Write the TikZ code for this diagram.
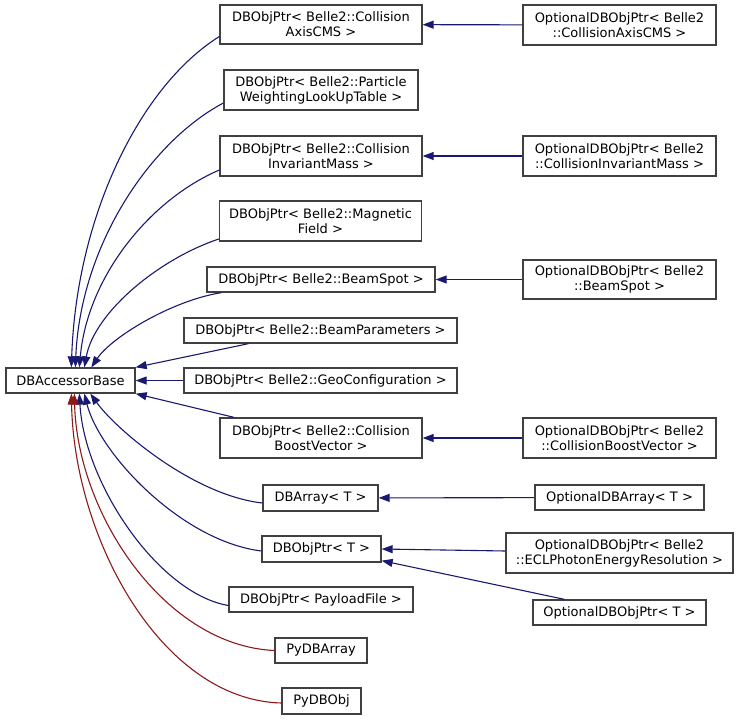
\documentclass[tikz,border=0pt]{standalone}
\usepackage{fontspec}
\setmainfont{DejaVu Sans}
\usetikzlibrary{arrows.meta,positioning}
\definecolor{pubblue}{HTML}{191970}
\definecolor{protred}{HTML}{8B1A1A}
\definecolor{boxgray}{HTML}{404040}

\begin{document}
\begin{tikzpicture}[x=1pt, y=-1pt,
  cls/.style={rectangle, draw=boxgray, line width=1.3pt, fill=white, inner sep=0pt, minimum height=25pt, align=center, font=\fontsize{13}{15}\selectfont},
  tall/.style={cls, minimum height=40pt},
  pub/.style={-{Triangle[length=11pt,width=8pt]}, pubblue, line width=1.1pt},
  prot/.style={-{Triangle[length=11pt,width=8pt]}, protred, line width=1.1pt}]
\useasboundingbox (0,0) rectangle (739,720);
\node[cls, minimum width=129pt] (base) at (70.5,380.5) {DBAccessorBase};
\node[tall, minimum width=202pt, minimum height=39pt] (axis) at (321,24.5) {DBObjPtr< Belle2::Collision\\AxisCMS >};
\node[tall, minimum width=193pt] (optaxis) at (619.5,25) {OptionalDBObjPtr< Belle2\\::CollisionAxisCMS >};
\node[tall, minimum width=194pt] (lookup) at (321,90) {DBObjPtr< Belle2::Particle\\WeightingLookUpTable >};
\node[tall, minimum width=202pt] (invmass) at (321,156) {DBObjPtr< Belle2::Collision\\InvariantMass >};
\node[tall, minimum width=193pt] (optinvmass) at (619.5,156) {OptionalDBObjPtr< Belle2\\::CollisionInvariantMass >};
\node[tall, minimum width=202pt] (magfield) at (320.5,221) {DBObjPtr< Belle2::Magnetic\\Field >};
\node[cls, minimum width=228pt] (beamspot) at (321,279.5) {DBObjPtr< Belle2::BeamSpot >};
\node[tall, minimum width=193pt, minimum height=39pt] (optbeamspot) at (619.5,279.5) {OptionalDBObjPtr< Belle2\\::BeamSpot >};
\node[cls, minimum width=273pt] (beampar) at (320.5,330.5) {DBObjPtr< Belle2::BeamParameters >};
\node[cls, minimum width=273pt] (geoconf) at (320.5,380.5) {DBObjPtr< Belle2::GeoConfiguration >};
\node[tall, minimum width=202pt] (boost) at (321,438) {DBObjPtr< Belle2::Collision\\BoostVector >};
\node[tall, minimum width=193pt] (optboost) at (619.5,438) {OptionalDBObjPtr< Belle2\\::CollisionBoostVector >};
\node[cls, minimum width=115pt, minimum height=26pt] (dbarray) at (320.5,498) {DBArray< T >};
\node[cls, minimum width=169pt] (optdbarray) at (619.5,497.5) {OptionalDBArray< T >};
\node[cls, minimum width=119pt, minimum height=26pt] (dbobjptr) at (321.5,549) {DBObjPtr< T >};
\node[tall, minimum width=227pt] (optecl) at (619.5,553) {OptionalDBObjPtr< Belle2\\::ECLPhotonEnergyResolution >};
\node[cls, minimum width=173pt] (optdbobjptr) at (619.5,612.5) {OptionalDBObjPtr< T >};
\node[cls, minimum width=184pt] (payload) at (321,599.5) {DBObjPtr< PayloadFile >};
\node[cls, minimum width=92pt] (pydbarray) at (321,650.5) {PyDBArray};
\node[cls, minimum width=79pt, minimum height=26pt] (pydbobj) at (321.5,701) {PyDBObj};
\draw[pub] ([yshift=-12pt]axis.west) .. controls +(-80,50) and +(5,-150) .. ([xshift=66pt]base.north west);
\draw[pub] ([yshift=-13pt]lookup.west) .. controls +(-75,40) and +(5,-120) .. ([xshift=70pt]base.north west);
\draw[pub] ([yshift=-14pt]invmass.west) .. controls +(-70,30) and +(8,-90) .. ([xshift=74pt]base.north west);
\draw[pub] ([yshift=-18pt]magfield.west) .. controls +(-60,20) and +(10,-55) .. ([xshift=79pt]base.north west);
\draw[pub] ([xshift=15pt]beamspot.south west) .. controls +(-50,8) and +(20,-30) .. ([xshift=86pt]base.north west);
\draw[pub] ([xshift=-72pt]beampar.south) -- (base.north east);
\draw[pub] (geoconf) -- (base);
\draw[pub] ([xshift=-87pt]boost.north) -- (base.south east);
\draw[pub] ([yshift=-5pt]dbarray.west) .. controls +(-70,-8) and +(25,35) .. ([xshift=85pt]base.south west);
\draw[pub] ([yshift=-2pt]dbobjptr.west) .. controls +(-80,-10) and +(15,60) .. ([xshift=79pt]base.south west);
\draw[pub] ([yshift=-6pt]payload.west) .. controls +(-70,-12) and +(5,90) .. ([xshift=74pt]base.south west);
\draw[prot] (pydbarray.west) .. controls +(-110,-5) and +(3,120) .. ([xshift=69pt]base.south west);
\draw[prot] ([yshift=-2pt]pydbobj.west) .. controls +(-120,-3) and +(3,145) .. ([xshift=66pt]base.south west);
\draw[pub] (optaxis) -- (axis); \draw[pub] (optinvmass) -- (invmass); \draw[pub] (optbeamspot) -- (beamspot); \draw[pub] (optboost) -- (boost);
\draw[pub] (optdbarray) -- (dbarray); \draw[pub] ([yshift=2pt]optecl.west) -- (dbobjptr.east);
\draw[pub] ([xshift=-55pt]optdbobjptr.north) -- ([yshift=2pt]dbobjptr.south east);
\end{tikzpicture}
\end{document}
